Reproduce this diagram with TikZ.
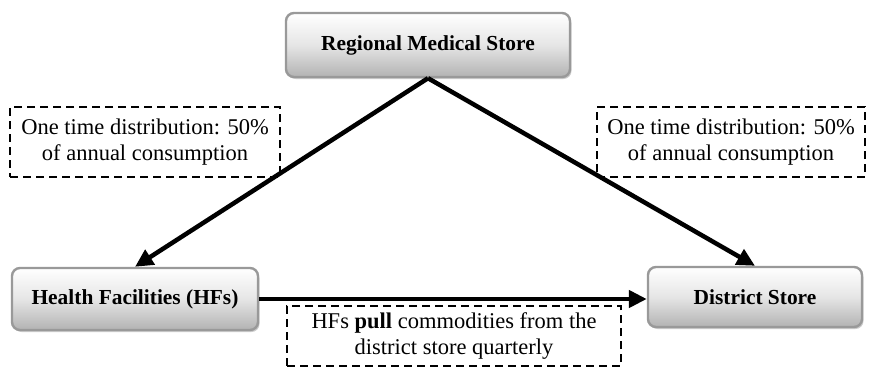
\documentclass[tikz,border=0pt]{standalone}
\usepackage{fontspec}
\setmainfont{Liberation Serif}
\usetikzlibrary{arrows.meta,shadows}
\begin{document}
\begin{tikzpicture}[x=1pt,y=-1pt,
  store/.style={rectangle, rounded corners=8pt, draw=gray!80, line width=2.4pt,
    top color=white, bottom color=gray!60, middle color=gray!20,
    drop shadow={shadow xshift=1.5pt, shadow yshift=-2pt, fill=gray!50, opacity=0.8},
    font=\fontsize{21.4}{25}\selectfont\bfseries, inner sep=0pt},
  note/.style={rectangle, draw=black, line width=2.2pt, dash pattern=on 8pt off 5pt,
    align=center, font=\fontsize{22.5}{26}\selectfont, inner sep=0pt},
  flow/.style={line width=4.5pt, -{Triangle[length=18pt,width=17pt]}}
]
\useasboundingbox (0,0) rectangle (872,369);
\node[store, minimum width=284pt, minimum height=64pt] (rms) at (428,45) {Regional Medical Store};
\node[store, minimum width=246pt, minimum height=62pt] (hf) at (135,299) {Health Facilities (HFs)};
\node[store, minimum width=214pt, minimum height=60pt] (ds) at (755,297) {District Store};
\node[note, minimum width=270pt, minimum height=70pt] (n1) at (145,142) {One time distribution: 50\%\\of annual consumption};
\node[note, minimum width=268pt, minimum height=70pt] (n2) at (731,142) {One time distribution: 50\%\\of annual consumption};
\node[note, minimum width=334pt, minimum height=60pt] (n3) at (454,336) {HFs \textbf{pull} commodities from the\\district store quarterly};
\draw[flow] (rms.south) -- (hf.north);
\draw[flow] (rms.south) -- (ds.north);
\draw[flow] (hf.east) -- (hf.east -| ds.west);
\end{tikzpicture}
\end{document}
